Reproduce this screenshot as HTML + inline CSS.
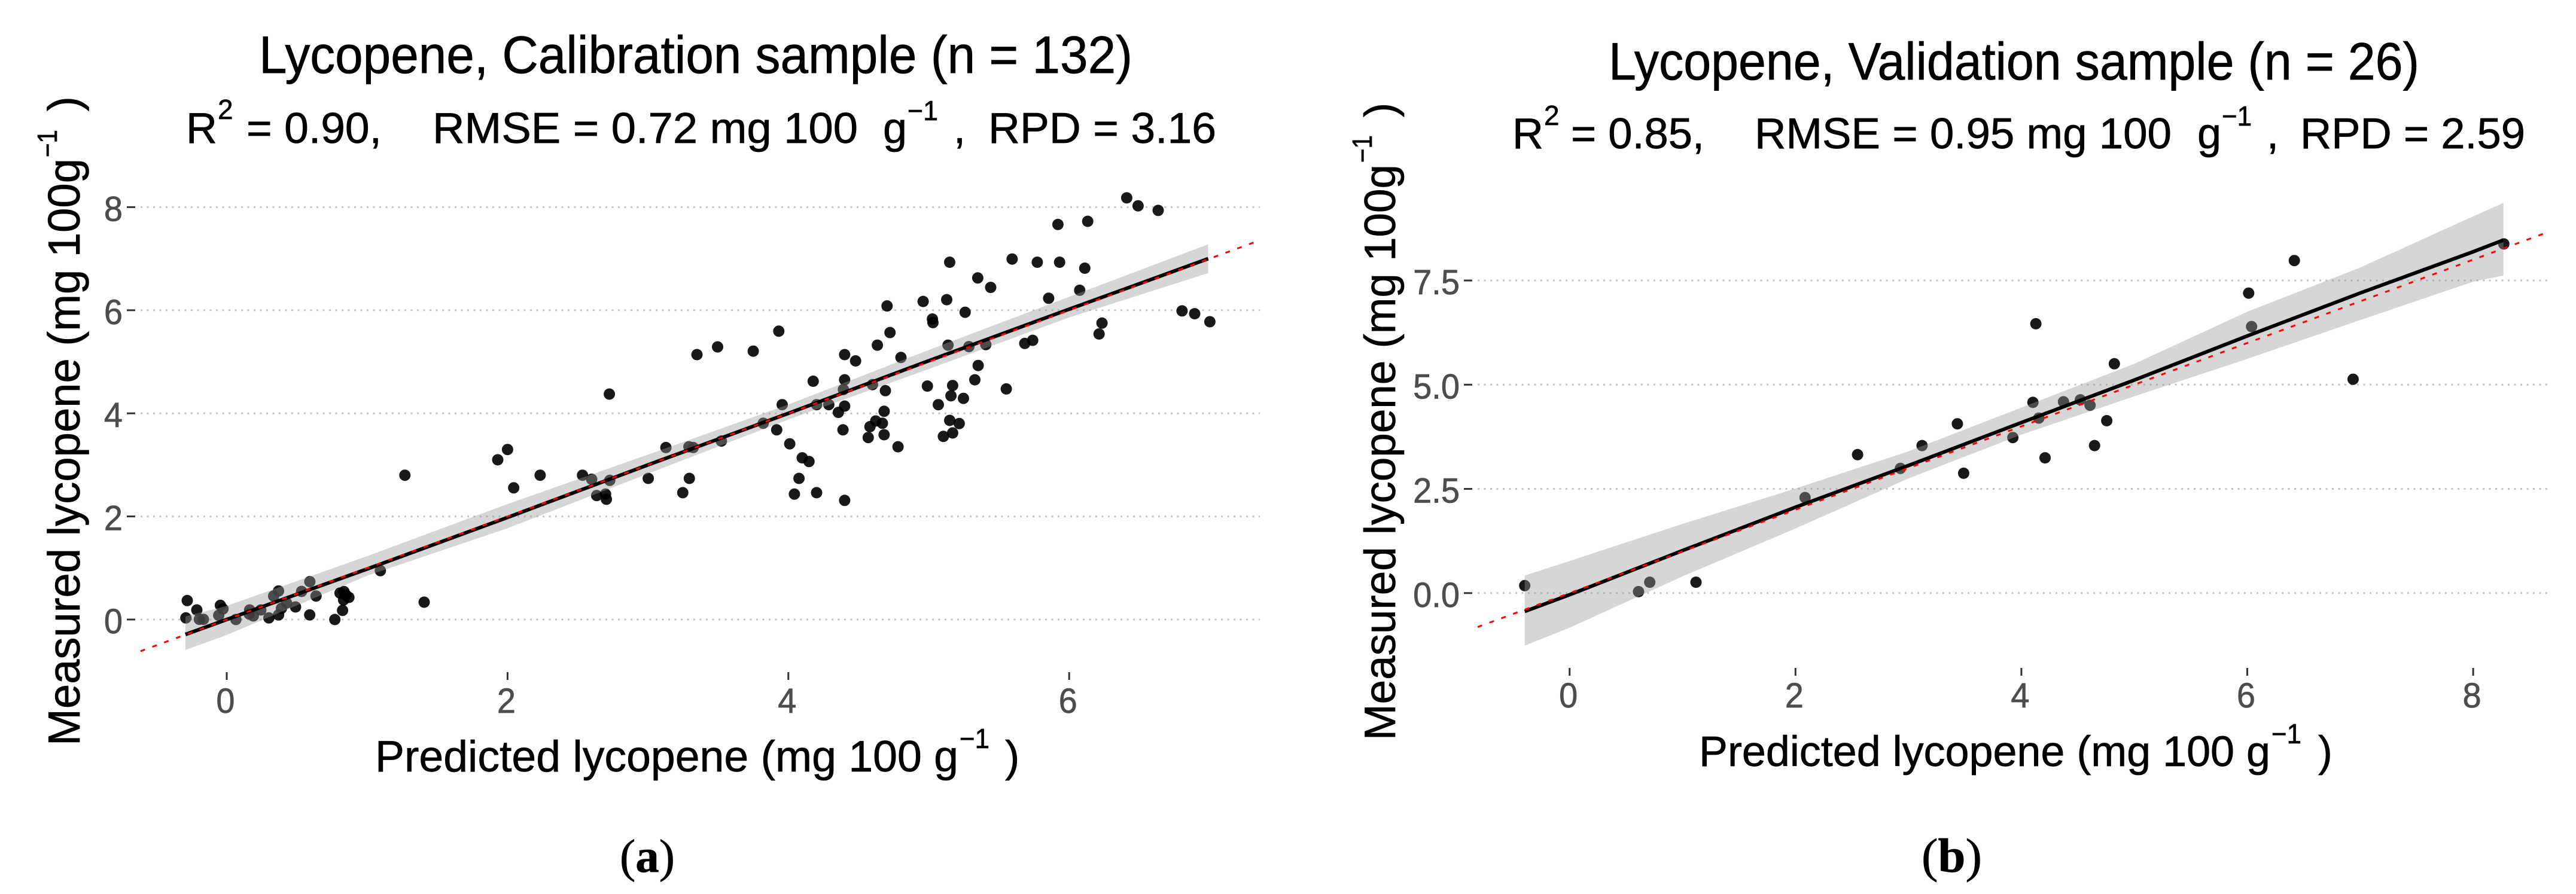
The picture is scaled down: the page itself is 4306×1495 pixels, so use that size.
<!DOCTYPE html>
<html lang="en">
<head>
<meta charset="utf-8">
<title>Lycopene calibration and validation scatter plots</title>
<style>
html,body{margin:0;padding:0;background:#fff;width:4306px;height:1495px;overflow:hidden}
svg{display:block}
text{font-family:"Liberation Sans",Arial,sans-serif;fill:#000;stroke:#000;stroke-width:0.7px}
.serif{font-family:"Liberation Serif","Times New Roman",serif}
</style>
</head>
<body>
<svg id="figure" xmlns="http://www.w3.org/2000/svg" width="4306" height="1495" viewBox="0 0 4306 1495">
  <rect width="4306" height="1495" fill="#fff"/>

  <g id="panelA">
    <g id="panelA-marks"></g>
    <text font-size="84" textLength="1460" lengthAdjust="spacingAndGlyphs" transform="translate(433,122) scale(1,1.05)">Lycopene, Calibration sample (n = 132)</text>
    <g font-size="72">
      <text x="311" y="239">R</text>
      <text x="364" y="199" font-size="46">2</text>
      <text x="412" y="239" textLength="226" lengthAdjust="spacingAndGlyphs">= 0.90,</text>
      <text x="723" y="239" textLength="711" lengthAdjust="spacingAndGlyphs">RMSE = 0.72 mg 100</text>
      <text x="1476" y="239">g</text>
      <text x="1517" y="201" font-size="46" textLength="51" lengthAdjust="spacingAndGlyphs">−1</text>
      <text x="1594" y="239">,</text>
      <text x="1652" y="239" textLength="381" lengthAdjust="spacingAndGlyphs">RPD = 3.16</text>
    </g>
    <g font-size="75" transform="translate(133,1247) rotate(-90)">
      <text x="0" y="0" textLength="982" lengthAdjust="spacingAndGlyphs">Measured lycopene (mg 100g</text>
      <text x="984" y="-38" font-size="46" textLength="46" lengthAdjust="spacingAndGlyphs">−1</text>
      <text x="1061" y="0">)</text>
    </g>
    <g font-size="73">
      <text x="627" y="1290" textLength="975" lengthAdjust="spacingAndGlyphs">Predicted lycopene (mg 100 g</text>
      <text x="1604" y="1251" font-size="46" textLength="50" lengthAdjust="spacingAndGlyphs">−1</text>
      <text x="1680" y="1290">)</text>
    </g>
    <text class="serif" x="1036" y="1458" font-size="78" textLength="92" lengthAdjust="spacingAndGlyphs">(<tspan font-weight="700">a</tspan>)</text>
  </g>

  <g id="panelB">
    <g id="panelB-marks"></g>
    <text font-size="84" textLength="1355" lengthAdjust="spacingAndGlyphs" transform="translate(2689,133) scale(1,1.05)">Lycopene, Validation sample (n = 26)</text>
    <g font-size="72">
      <text x="2528" y="248">R</text>
      <text x="2581" y="209" font-size="46">2</text>
      <text x="2626" y="248" textLength="223" lengthAdjust="spacingAndGlyphs">= 0.85,</text>
      <text x="2933" y="248" textLength="697" lengthAdjust="spacingAndGlyphs">RMSE = 0.95 mg 100</text>
      <text x="3673" y="248">g</text>
      <text x="3714" y="210" font-size="46" textLength="50" lengthAdjust="spacingAndGlyphs">−1</text>
      <text x="3789" y="248">,</text>
      <text x="3845" y="248" textLength="376" lengthAdjust="spacingAndGlyphs">RPD = 2.59</text>
    </g>
    <g font-size="73" transform="translate(2332,1238) rotate(-90)">
      <text x="0" y="0" textLength="963" lengthAdjust="spacingAndGlyphs">Measured lycopene (mg 100g</text>
      <text x="966" y="-39" font-size="46" textLength="46" lengthAdjust="spacingAndGlyphs">−1</text>
      <text x="1042" y="0">)</text>
    </g>
    <g font-size="71.5">
      <text x="2840" y="1281" textLength="955" lengthAdjust="spacingAndGlyphs">Predicted lycopene (mg 100 g</text>
      <text x="3797" y="1243" font-size="46" textLength="50" lengthAdjust="spacingAndGlyphs">−1</text>
      <text x="3875" y="1281">)</text>
    </g>
    <text class="serif" x="3212" y="1458" font-size="80" textLength="101" lengthAdjust="spacingAndGlyphs">(<tspan font-weight="700">b</tspan>)</text>
  </g>
</svg>

<script>
/* Panel (a): calibration sample */
const calibrationPredicted = [
-0.281,-0.213,-0.291,-0.195,-0.166,-0.045,-0.027,-0.057,0.065,0.163,0.189,0.16,0.243,0.30,0.369,0.334,0.369,0.39,0.426,0.49,0.533,0.591,0.592,0.636,0.77,0.825,0.807,0.835,0.832,0.870,0.849,1.094,1.406,
1.269,1.930,2.0,2.044,2.232,2.534,2.599,2.728,2.635,2.698,2.704,2.725,
6.410,6.491,6.634,5.920,6.132,5.594,5.773,5.932,5.149,6.111,5.349,5.441,6.075,5.854,4.960,5.128,4.703,5.259,5.026,5.030,6.804,6.894,7.002,6.234,6.213,3.932,4.724,3.496,3.349,3.750,4.634,5.137,5.286,5.406,5.684,5.740,4.401,4.479,4.802,5.352,5.328,4.177,4.401,5.170,4.990,5.552,4.392,4.599,4.691,5.158,5.247,3.956,4.201,4.288,4.401,5.068,4.356,4.682,3.821,3.917,4.389,4.622,4.670,4.581,5.149,5.217,4.569,4.682,5.170,5.104,4.010,4.781,3.523,3.292,3.322,3.128,
4.099,4.147,3.002,3.295,3.248,4.076,4.043,4.201,4.401];
const calibrationMeasured = [
0.368,0.186,0.031,0.004,0.004,0.275,0.205,0.081,0,0.186,0.07,0.108,0.186,0.031,0.089,0.456,0.553,0.217,0.321,0.244,0.545,0.089,0.734,0.456,0,0.178,0.514,0.542,0.379,0.429,0.476,0.948,0.336,
2.799,3.099,3.298,2.555,2.799,2.799,2.721,2.699,2.405,2.433,2.333,4.373,
8.180,8.025,7.936,7.664,7.725,6.993,6.932,6.932,6.932,6.815,6.626,6.443,6.388,6.232,6.171,6.205,6.083,5.960,5.830,5.760,5.987,5.933,5.777,5.750,5.539,5.594,5.567,5.289,5.139,5.206,5.322,5.322,5.295,5.333,5.356,5.417,5.139,5.017,5.084,4.928,4.651,4.623,4.651,4.540,4.529,4.473,4.462,4.557,4.440,4.340,4.290,4.168,4.168,4.168,4.140,4.168,4.018,4.040,3.807,3.680,3.680,3.852,3.807,3.741,3.863,3.802,3.530,3.585,3.619,3.552,3.408,3.352,3.463,3.352,3.336,3.336,
3.137,3.065,2.738,2.738,2.460,2.738,2.433,2.460,2.311];
const calibrationFitX = [-0.294,0,1,2,3,4,5,6,6.99];
const calibrationFitY = [-0.29,0,0.98,1.98,3.0,4.0,5.02,6.02,7.0];
const calibrationFitLower = [-0.59,-0.30,0.85,1.77,2.83,3.88,4.86,5.86,6.72];
const calibrationFitUpper = [0.06,0.265,1.23,2.24,3.2,4.17,5.23,6.26,7.28];
const calibrationXTicks = [0,2,4,6];
const calibrationYTicks = [0,2,4,6,8];
const calibrationXTickLabels = ["0","2","4","6"];
const calibrationYTickLabels = ["0","2","4","6","8"];
const calibrationIdentityEnds = [-0.614,7.36];

/* Panel (b): validation sample */
const validationPredicted = [8.271,6.417,6.012,6.038,4.128,4.823,6.937,4.102,4.373,4.522,4.608,4.154,4.756,3.433,3.924,4.648,3.121,4.210,3.489,2.550,2.929,2.085,-0.397,0.710,0.610,1.119];
const validationMeasured = [8.377,7.979,7.196,6.394,6.462,5.502,5.131,4.575,4.589,4.637,4.507,4.198,4.136,4.061,3.731,3.539,3.539,3.246,2.875,3.321,2.992,2.292,0.179,0.261,0.034,0.261];
const validationFitX = [-0.397,0,1,2,3,4,5,6,7,8,8.268];
const validationFitY = [-0.44,-0.04,1.02,2.06,3.06,4.09,5.11,6.17,7.2,8.19,8.47];
const validationFitLower = [-1.26,-0.83,0.40,1.55,2.75,3.80,4.72,5.62,6.55,7.47,7.62];
const validationFitUpper = [0.42,0.77,1.66,2.51,3.40,4.45,5.50,6.75,7.81,9.04,9.36];
const validationXTicks = [0,2,4,6,8];
const validationYTicks = [0,2.5,5,7.5];
const validationXTickLabels = ["0","2","4","6","8"];
const validationYTickLabels = ["0.0","2.5","5.0","7.5"];
const validationIdentityEnds = [-0.814,8.676];

const SVG_NS = "http://www.w3.org/2000/svg";

function make(parent, tag, geometry) {
  const el = document.createElementNS(SVG_NS, tag);
  for (const key in geometry) el.setAttribute(key, geometry[key]);
  parent.appendChild(el);
  return el;
}

function pairsToPath(xs, ys, scaleX, scaleY) {
  return xs.map((v, i) => (i ? "L" : "M") + scaleX(v).toFixed(1) + " " + scaleY(ys[i]).toFixed(1)).join(" ");
}

function drawPanel(cfg) {
  const root = document.getElementById(cfg.rootId);
  const sx = v => cfg.x0 + cfg.xUnit * v;
  const sy = v => cfg.y0 - cfg.yUnit * v;

  const gridGroup = make(root, "g", {});
  
  
  cfg.yTicks.forEach(v => {
    const grid = make(gridGroup, "line", {x1: cfg.left, x2: cfg.right, y1: sy(v), y2: sy(v), stroke: "#c4c4c4", "stroke-width": 3, "stroke-dasharray": "3 7.5"});
    
    
  });

  const yAxis = make(root, "g", {});
  
  
  cfg.yTicks.forEach((v, i) => {
    const tick = make(yAxis, "line", {x1: cfg.left - 23, x2: cfg.left - 9, y1: sy(v), y2: sy(v), stroke: "#333", "stroke-width": 3});
    
    
    const label = make(yAxis, "text", {transform: "translate(" + (cfg.left - 30) + "," + (sy(v) + 23) + ") scale(1,1.05)", "text-anchor": "end", "font-size": 56});
    
    
    label.style.fill = "#4d4d4d";
    label.style.stroke = "#4d4d4d";
    label.textContent = cfg.yTickLabels[i];
  });

  const xAxis = make(root, "g", {});
  
  
  cfg.xTicks.forEach((v, i) => {
    const tick = make(xAxis, "line", {x1: sx(v), x2: sx(v), y1: cfg.tickTop, y2: cfg.tickTop + 13, stroke: "#333", "stroke-width": 3});
    
    
    const label = make(xAxis, "text", {transform: "translate(" + (sx(v) - 2) + "," + cfg.xLabelY + ") scale(1,1.05)", "text-anchor": "middle", "font-size": 56});
    
    
    label.style.fill = "#4d4d4d";
    label.style.stroke = "#4d4d4d";
    label.textContent = cfg.xTickLabels[i];
  });

  const pointGroup = make(root, "g", {});
  
  
  cfg.predicted.forEach((v, i) => {
    const dot = make(pointGroup, "circle", {cx: sx(v).toFixed(1), cy: sy(cfg.measured[i]).toFixed(1), r: 9.5, fill: "#000", "fill-opacity": 0.9});
    
    
  });

  const upperPath = pairsToPath(cfg.fitX, cfg.fitUpper, sx, sy);
  const lowerRev = cfg.fitX.map((v, i) => "L" + sx(v).toFixed(1) + " " + sy(cfg.fitLower[i]).toFixed(1)).reverse().join(" ");
  const ribbon = make(root, "path", {d: upperPath + " " + lowerRev + " Z", fill: "#999", "fill-opacity": 0.4});
  
  

  const fitLine = make(root, "path", {d: pairsToPath(cfg.fitX, cfg.fitY, sx, sy), fill: "none", stroke: "#000", "stroke-width": 6, "stroke-linejoin": "round"});
  
  

  const identity = make(root, "line", {x1: sx(cfg.identity[0]), y1: sy(cfg.identity[0]), x2: sx(cfg.identity[1]), y2: sy(cfg.identity[1]), stroke: "#ff0000", "stroke-width": 3, "stroke-dasharray": "8 13"});
  
  
}

drawPanel({
  rootId: "panelA-marks", x0: 379, xUnit: 234.7, y0: 1036, yUnit: 86.2,
  left: 235, right: 2106, tickTop: 1124, xLabelY: 1192,
  xTicks: calibrationXTicks, yTicks: calibrationYTicks,
  xTickLabels: calibrationXTickLabels, yTickLabels: calibrationYTickLabels,
  predicted: calibrationPredicted, measured: calibrationMeasured,
  fitX: calibrationFitX, fitY: calibrationFitY, fitLower: calibrationFitLower, fitUpper: calibrationFitUpper,
  identity: calibrationIdentityEnds
});

drawPanel({
  rootId: "panelB-marks", x0: 2623.7, xUnit: 188.8, y0: 991.8, yUnit: 69.7,
  left: 2470, right: 4262, tickTop: 1117, xLabelY: 1183,
  xTicks: validationXTicks, yTicks: validationYTicks,
  xTickLabels: validationXTickLabels, yTickLabels: validationYTickLabels,
  predicted: validationPredicted, measured: validationMeasured,
  fitX: validationFitX, fitY: validationFitY, fitLower: validationFitLower, fitUpper: validationFitUpper,
  identity: validationIdentityEnds
});
</script>
</body>
</html>
